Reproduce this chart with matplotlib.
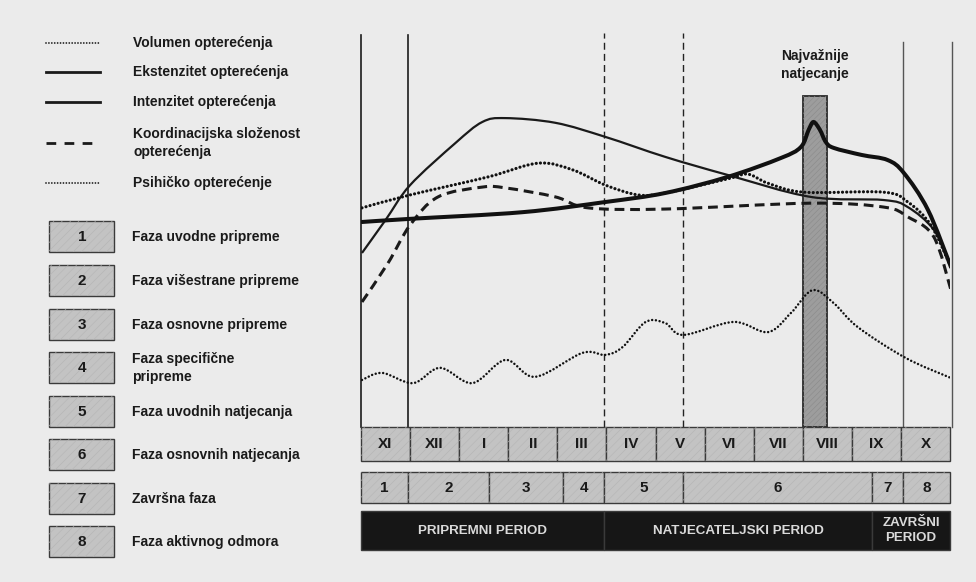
import matplotlib
matplotlib.use("Agg")
import matplotlib.pyplot as plt
from matplotlib.path import Path
from matplotlib.patches import PathPatch, Rectangle
import numpy as np

# ---------------- data ----------------
months = ["XI", "XII", "I", "II", "III", "IV", "V", "VI", "VII", "VIII", "IX", "X"]

phase_numbers = ["1", "2", "3", "4", "5", "6", "7", "8"]
phase_names = ["Faza uvodne pripreme", "Faza višestrane pripreme", "Faza osnovne pripreme",
               "Faza specifične\npripreme", "Faza uvodnih natjecanja", "Faza osnovnih natjecanja",
               "Završna faza", "Faza aktivnog odmora"]
phase_edges = [0, 0.96, 2.61, 4.12, 4.95, 6.56, 10.41, 11.04, 12]

period_labels = ["PRIPREMNI PERIOD", "NATJECATELJSKI PERIOD", "ZAVRŠNI\nPERIOD"]
period_edges = [0, 4.95, 10.41, 12]

series_labels = ["Volumen opterećenja", "Ekstenzitet opterećenja", "Intenzitet opterećenja",
                 "Koordinacijska složenost\nopterećenja", "Psihičko opterećenje"]

main_comp_label = "Najvažnije\nnatjecanje"
main_comp_span = [9.0, 9.49]
main_comp_level = 84.4

# curves: x in months from start of XI, y in relative level (0-100)
vol_m = [0.02, 1.0, 2.59, 3.61, 4.31, 4.98, 5.65, 6.2, 7.47, 7.88, 8.29, 9.02, 10.65, 11.14, 11.61, 12.02]
vol_v = [55.9, 59.2, 63.8, 67.3, 65.6, 61.7, 59.2, 59.7, 63.3, 64.5, 62.2, 59.9, 59.9, 57.4, 51.5, 40.8]

ext_m = [0.02, 0.5, 1.0, 1.92, 2.47, 2.94, 3.96, 4.98, 6.2, 7.47, 9.16, 10.65, 11.14, 11.67, 12.02]
ext_v = [44.4, 52.8, 61.7, 72.4, 77.8, 78.8, 77.6, 74.0, 68.9, 64.3, 58.7, 57.9, 56.1, 50.3, 41.3]

int_m = [0.02, 1.0, 3.29, 4.98, 6.2, 7.47, 8.55, 8.96, 9.12, 9.22, 9.35, 9.47, 9.63, 10.2, 10.73, 11.06, 11.55, 12.02]
int_v = [52.3, 53.1, 54.8, 57.4, 59.7, 63.8, 68.6, 71.4, 75.8, 77.8, 75.8, 72.7, 71.2, 69.4, 68.1, 64.8, 55.4, 40.8]

koord_m = [0.02, 0.55, 1.0, 1.57, 2.47, 2.94, 3.96, 4.63, 6.2, 9.16, 10.65, 11.14, 11.67, 12.02]
koord_v = [31.9, 41.8, 51.5, 58.7, 61.2, 61.0, 58.7, 55.9, 55.6, 57.1, 56.1, 53.6, 48.5, 34.9]

psi_m = [0.02, 0.43, 1.06, 1.61, 2.27, 2.94, 3.55, 4.51, 4.98, 5.33, 5.8, 6.2, 6.57, 7.59, 8.29, 8.76, 9.2, 9.63, 10.12, 11.1, 12.02]
psi_v = [12.0, 13.8, 11.2, 15.1, 11.2, 17.1, 12.8, 18.9, 18.4, 20.4, 26.8, 26.5, 23.5, 26.8, 24.2, 29.1, 34.9, 31.6, 25.5, 17.6, 12.5]

# ---------------- style ----------------
W, H = 976, 582
BG = "#ebebeb"
BOX = "#c3c3c3"
FONT = ['Liberation Sans', 'DejaVu Sans']
plt.rcParams['font.family'] = FONT
plt.rcParams['font.weight'] = 'bold'
plt.rcParams['hatch.linewidth'] = 0.4
FS = 10

fig = plt.figure(figsize=(W / 100, H / 100), dpi=100, facecolor=BG)


def fr(x0, y0, x1, y1):
    return [x0 / W, 1 - y1 / H, (x1 - x0) / W, (y1 - y0) / H]


# pixel-space overlay for the left legend panel
axL = fig.add_axes([0, 0, 1, 1])
axL.set_xlim(0, W)
axL.set_ylim(H, 0)
axL.axis('off')

# main chart axes (months x relative level)
PXV = 3.92  # pixels per level unit
ax = fig.add_axes(fr(361, 35, 950, 550))
ax.set_xlim(0, 12)
ax.set_ylim((427 - 550) / PXV, 100)
ax.axis('off')


def cr_path(xs, ys):
    p = np.column_stack([xs, ys]).astype(float)
    verts = [p[0]]
    codes = [Path.MOVETO]
    n = len(p)
    for i in range(n - 1):
        p0 = p[i - 1] if i > 0 else p[i]
        p1 = p[i]
        p2 = p[i + 1]
        p3 = p[i + 2] if i + 2 < n else p[i + 1]
        verts += [p1 + (p2 - p0) / 6, p2 - (p3 - p1) / 6, p2]
        codes += [Path.CURVE4] * 3
    return Path(verts, codes)


def lv(py):
    return (427 - py) / PXV


# ---- vertical guide lines ----
for idx in (0, 1):
    ax.plot([phase_edges[idx]] * 2, [0, 100], color="#1c1c1c", lw=1.2, clip_on=False, zorder=2)
for idx in (4, 5):
    ax.plot([phase_edges[idx]] * 2, [0, lv(33)], color="#222222", lw=1.0,
            ls=(0, (5, 3)), clip_on=False, zorder=2)
for idx in (7, 8):
    ax.plot([phase_edges[idx] + (0.04 if idx == 8 else 0)] * 2, [0, lv(42)], color="#555555",
            lw=1.0, clip_on=False, zorder=2)

# ---- main competition bar ----
ax.add_patch(Rectangle((main_comp_span[0], 0), main_comp_span[1] - main_comp_span[0], main_comp_level,
                       facecolor="#9d9d9d", edgecolor="#2a2a2a", lw=1.3, zorder=1))
ax.add_patch(Rectangle((main_comp_span[0], 0), main_comp_span[1] - main_comp_span[0], main_comp_level,
                       facecolor="none", edgecolor="#8a8a8a", lw=0, hatch="//////", zorder=1))
ax.text(sum(main_comp_span) / 2, lv(65), main_comp_label, ha='center', va='center',
        fontsize=FS, fontweight='bold', color="#1a1a1a", linespacing=1.4)

# ---- curves ----
ax.add_patch(PathPatch(cr_path(ext_m, ext_v), facecolor='none', edgecolor="#1a1a1a", lw=1.6, zorder=4))
ax.add_patch(PathPatch(cr_path(int_m, int_v), facecolor='none', edgecolor="#111111", lw=2.9,
                       capstyle='round', zorder=5))
ax.add_patch(PathPatch(cr_path(vol_m, vol_v), facecolor='none', edgecolor="#111111", lw=2.3,
                       ls=(0, (0.01, 1.3)), capstyle='round', zorder=4))
ax.add_patch(PathPatch(cr_path(koord_m, koord_v), facecolor='none', edgecolor="#1a1a1a", lw=2.2,
                       ls=(0, (3.2, 1.9)), capstyle='butt', zorder=4))
ax.add_patch(PathPatch(cr_path(psi_m, psi_v), facecolor='none', edgecolor="#111111", lw=1.8,
                       ls=(0, (0.01, 1.5)), capstyle='round', zorder=4))

# ---- month row ----
def cell(a, x0, x1, y0, y1, fc=BOX, hatch=True):
    a.add_patch(Rectangle((x0, y0), x1 - x0, y1 - y0, facecolor=fc, edgecolor="#3a3a3a",
                          lw=1.0, clip_on=False, zorder=3))
    if hatch:
        a.add_patch(Rectangle((x0, y0), x1 - x0, y1 - y0, facecolor='none', edgecolor="#b4b4b4",
                              lw=0, hatch="////", clip_on=False, zorder=3))


for i, mname in enumerate(months):
    cell(ax, i, i + 1, lv(461), lv(427))
    ax.text(i + 0.5, (lv(461) + lv(427)) / 2, mname, ha='center', va='center',
            fontsize=11, fontweight='bold', color="#1a1a1a", zorder=6)

for i, pn in enumerate(phase_numbers):
    cell(ax, phase_edges[i], phase_edges[i + 1], lv(503), lv(472))
    ax.text((phase_edges[i] + phase_edges[i + 1]) / 2, (lv(503) + lv(472)) / 2, pn,
            ha='center', va='center', fontsize=11, fontweight='bold', color="#1a1a1a", zorder=6)

for i, pl in enumerate(period_labels):
    ax.add_patch(Rectangle((period_edges[i], lv(550)), period_edges[i + 1] - period_edges[i],
                           lv(511) - lv(550), facecolor="#161616", edgecolor="#3a3a3a", lw=1.0,
                           clip_on=False, zorder=3))
    ax.text((period_edges[i] + period_edges[i + 1]) / 2, (lv(550) + lv(511)) / 2, pl,
            ha='center', va='center', fontsize=9.6, fontweight='bold', color="#dadada",
            linespacing=1.3, zorder=6)

# ---- left legend ----
leg_y = [43, 72, 102, 143, 183]
leg_styles = [dict(lw=1.3, ls=(0, (0.01, 1.6)), dash_capstyle='round'),
              dict(lw=2.0, ls='-'),
              dict(lw=2.0, ls='-'),
              dict(lw=2.0, ls=(0, (3.5, 3))),
              dict(lw=1.3, ls=(0, (0.01, 1.6)), dash_capstyle='round')]
for y, lab, st in zip(leg_y, series_labels, leg_styles):
    axL.plot([46, 100], [y, y], color="#1a1a1a", **st)
    axL.text(133, y, lab, ha='left', va='center', fontsize=FS, fontweight='bold',
             color="#1a1a1a", linespacing=1.4)

box_top = [221, 265, 309, 352, 396, 439, 483, 526]
for top, pn, name in zip(box_top, phase_numbers, phase_names):
    cell(axL, 49, 114, top + 31, top)
    axL.text(82, top + 16, pn, ha='center', va='center', fontsize=11, fontweight='bold',
             color="#1a1a1a", zorder=6)
    axL.text(132, top + 16, name, ha='left', va='center', fontsize=FS, fontweight='bold',
             color="#1a1a1a", linespacing=1.4)

fig.savefig("out.png", dpi=100, facecolor=BG)
